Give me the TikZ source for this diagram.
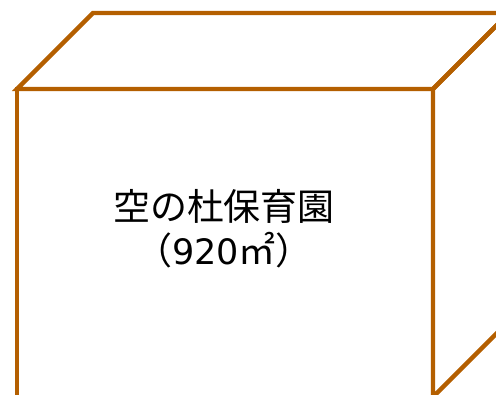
\documentclass[tikz,border=0pt]{standalone}
\usepackage{fontspec}
\newfontfamily\cjk{Noto Sans CJK JP}
\newfontfamily\digits{DejaVu Sans}
\definecolor{edge}{RGB}{180,95,0}
\begin{document}
\begin{tikzpicture}[x=1pt,y=-1pt,
  boxedge/.style={draw=edge,line width=4.3pt,line join=miter},
  label/.style={font=\cjk\fontsize{37}{44}\selectfont,align=center,text=black}]
\useasboundingbox (0,0) rectangle (496,395);
\coordinate (ftl) at (17,89);
\coordinate (ftr) at (433,89);
\coordinate (fbr) at (433,397);
\coordinate (fbl) at (17,397);
\coordinate (btl) at (93,13);
\coordinate (btr) at (509,13);
\coordinate (bbr) at (509,321);
\fill[white] (ftl) -- (ftr) -- (fbr) -- (fbl) -- cycle;
\draw[boxedge] (ftl) -- (btl) -- (btr) -- (ftr) -- cycle;
\draw[boxedge] (ftr) -- (btr) -- (bbr) -- (fbr) -- cycle;
\draw[boxedge] (ftl) -- (ftr) -- (fbr) -- (fbl) -- cycle;
\node[label] (name) at (224,229) {空の杜保育園\\（{\digits\fontsize{35}{44}\selectfont 920}㎡）};
\end{tikzpicture}
\end{document}
